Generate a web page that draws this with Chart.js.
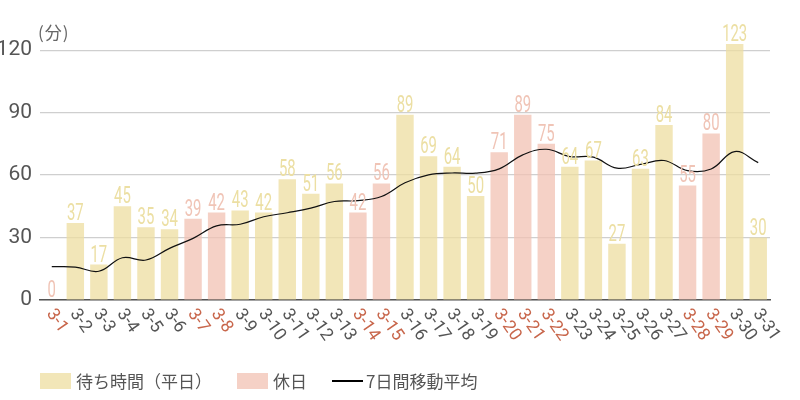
<!DOCTYPE html>
<html>
<head>
<meta charset="utf-8">
<script src="https://cdn.jsdelivr.net/npm/chart.js@4/dist/chart.umd.min.js"></script>
<style>
    body { margin: 0; background: #fff; }
    #wrap { position: relative; width: 800px; height: 400px; }
    #unit { position: absolute; left: 38px; top: 19px; font: 17px "Noto Sans CJK JP"; color: #666; letter-spacing: 1px; }
    #legend { position: absolute; left: 40px; top: 368px; font: 17px "Noto Sans CJK JP"; color: #555; display: flex; align-items: center; }
    #legend .item { display: flex; align-items: center; margin-right: 25px; }
    #legend .box { width: 31px; height: 16px; margin-right: 5px; }
    #legend .line { width: 31px; height: 2px; background: #000; margin-right: 3px; }
</style>
</head>
<body>
<div id="wrap">
    <canvas id="waitChart" width="800" height="400"></canvas>
    <div id="unit">(分)</div>
    <div id="legend">
        <div class="item"><span class="box" style="background:#f2e6b8"></span>待ち時間（平日）</div>
        <div class="item"><span class="box" style="background:#f5d1c6"></span>休日</div>
        <div class="item"><span class="line"></span>7日間移動平均</div>
    </div>
</div>
<script>
// Data (March, waiting minutes)
const days = ['3-1','3-2','3-3','3-4','3-5','3-6','3-7','3-8','3-9','3-10','3-11','3-12','3-13','3-14','3-15','3-16',
    '3-17','3-18','3-19','3-20','3-21','3-22','3-23','3-24','3-25','3-26','3-27','3-28','3-29','3-30','3-31'];
const waitTimes = [0,37,17,45,35,34,39,42,43,42,58,51,56,42,56,89,69,64,50,71,89,75,64,67,27,63,84,55,80,123,30];
const holidays = ['3-1','3-7','3-8','3-14','3-15','3-20','3-21','3-22','3-28','3-29'];
const movingAvg = [16,15.8,13.8,20.3,19.2,24.8,29.6,35.6,36.4,40,41.9,44.1,47.3,47.7,49.7,56.3,
    60.1,61,60.9,63,69.7,72.4,68.9,68.6,63.3,65.1,67,62.1,62.9,71.3,66];
const yTicks = [0, 30, 60, 90, 120];

const isHoliday = d => holidays.includes(d);

// Weekdays and holidays go in two bar datasets so the colours follow the legend
const weekdayData = waitTimes.map((v, i) => isHoliday(days[i]) ? null : v);
const holidayData = waitTimes.map((v, i) => isHoliday(days[i]) ? v : null);

// Value labels above each bar, in a narrow face
const barLabels = {
    id: 'barLabels',
    afterDatasetsDraw(chart) {
        const ctx = chart.ctx;
        [0, 1].forEach(di => {
            const meta = chart.getDatasetMeta(di);
            const color = di === 0 ? '#ecdfa3' : '#f0c4b6';
            meta.data.forEach((bar, i) => {
                const v = chart.data.datasets[di].data[i];
                if (v === null) return;
                ctx.save();
                ctx.translate(bar.x, bar.y - 3);
                ctx.scale(0.62, 1);
                ctx.font = '24px Roboto';
                ctx.fillStyle = color;
                ctx.textAlign = 'center';
                ctx.textBaseline = 'alphabetic';
                ctx.fillText(String(v), 0, 0);
                ctx.restore();
            });
        });
    }
};

// Date labels turned clockwise, holidays in red
const dayLabels = {
    id: 'dayLabels',
    afterDraw(chart) {
        const ctx = chart.ctx;
        const xs = chart.scales.x;
        days.forEach((d, i) => {
            const x = xs.getPixelForValue(i);
            ctx.save();
            ctx.translate(x - 2, chart.chartArea.bottom + 11);
            ctx.rotate(55 * Math.PI / 180);
            ctx.font = '17.5px Roboto';
            ctx.fillStyle = isHoliday(d) ? '#c8664b' : '#555';
            ctx.textAlign = 'left';
            ctx.textBaseline = 'middle';
            ctx.fillText(d, 0, 0);
            ctx.restore();
        });
    }
};

new Chart(document.getElementById('waitChart'), {
    data: {
        labels: days,
        datasets: [{
            type: 'bar',
            label: '待ち時間（平日）',
            data: weekdayData,
            backgroundColor: 'rgba(238,222,160,0.75)',
            barPercentage: 0.74,
            categoryPercentage: 1,
            grouped: false,
            order: 2
        }, {
            type: 'bar',
            label: '休日',
            data: holidayData,
            backgroundColor: 'rgba(242,194,179,0.75)',
            barPercentage: 0.74,
            categoryPercentage: 1,
            grouped: false,
            order: 2
        }, {
            type: 'line',
            label: '7日間移動平均',
            data: movingAvg,
            borderColor: '#111',
            borderWidth: 1.2,
            pointRadius: 0,
            tension: 0.4,
            fill: false,
            order: 1
        }]
    },
    options: {
        responsive: false,
        animation: false,
        layout: { padding: { top: 0, right: 30, left: 0, bottom: 0 } },
        plugins: {
            legend: { display: false },
            tooltip: { enabled: false }
        },
        scales: {
            x: {
                ticks: { display: false },
                grid: { display: false },
                border: { color: '#555', width: 1.5 },
                afterFit: scale => { scale.height = 100; }
            },
            y: {
                min: 0,
                max: 134.2,
                afterBuildTicks: scale => {
                    scale.ticks = yTicks.map(v => ({ value: v }));
                },
                ticks: {
                    font: { family: 'Roboto', size: 21 },
                    color: '#555',
                    padding: 8
                },
                grid: { color: '#cfcfcf', lineWidth: 1.2, drawTicks: false },
                border: { display: false },
                afterFit: scale => { scale.width = 40; }
            }
        }
    },
    plugins: [barLabels, dayLabels]
});
</script>
</body>
</html>
